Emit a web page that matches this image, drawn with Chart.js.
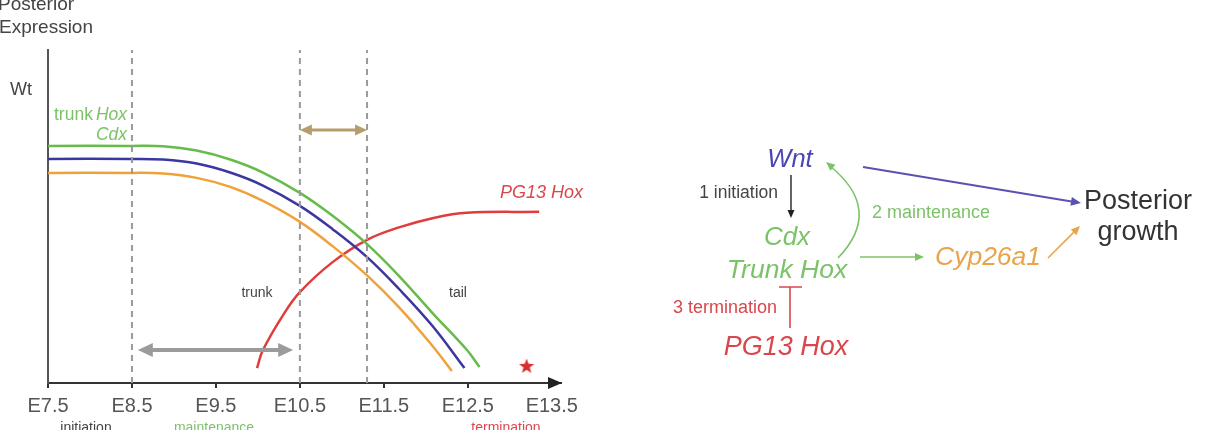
<!DOCTYPE html>
<html>
<head>
<meta charset="utf-8">
<script src="https://cdn.jsdelivr.net/npm/chart.js@4.4.1/dist/chart.umd.min.js"></script>
<style>
  html, body { margin: 0; padding: 0; background: #fff; }
  #wrap { width: 1209px; height: 430px; position: relative; overflow: hidden; }
</style>
</head>
<body>
<div id="wrap"><canvas id="c" width="1209" height="430"></canvas></div>
<script>
/* ─────────────── DATA ─────────────── */
const stageTicks  = [7.5, 8.5, 9.5, 10.5, 11.5, 12.5, 13.5];
const stageBounds = [8.5, 10.5, 11.3];

// trunk Hox / Cdx (green)
const cdxX = [7.5, 8.48, 8.87, 9.27, 9.67, 10.06, 10.5, 10.89, 11.3, 11.69, 12.08, 12.49, 12.64];
const cdxY = [71.2, 71.2, 71.1, 69.8, 67.1, 63.2, 57.1, 50.2, 41.7, 31.9, 21.0, 9.9, 4.8];
// Wnt (blue)
const wntX = [7.5, 8.48, 8.87, 9.27, 9.67, 10.06, 10.5, 10.89, 11.3, 11.69, 12.08, 12.46];
const wntY = [67.3, 67.3, 67.1, 65.9, 63.2, 59.3, 53.2, 46.2, 37.8, 28.0, 17.1, 4.5];
// Cyp26a1 (orange)
const cypX = [7.5, 8.48, 8.87, 9.27, 9.67, 10.06, 10.5, 10.89, 11.3, 11.69, 12.08, 12.31];
const cypY = [63.1, 63.1, 62.9, 61.6, 58.9, 54.7, 48.4, 41.1, 32.3, 22.5, 11.1, 3.6];
// PG13 Hox (red)
const pg13X = [9.99, 10.06, 10.3, 10.5, 10.89, 11.3, 11.69, 12.08, 12.49, 13.35];
const pg13Y = [4.5, 9.9, 20.4, 27.3, 36.3, 43.0, 46.8, 49.5, 51.1, 51.4];

const maintSpan = [8.57, 10.42], maintLevel = 9.9;
const tailSpan  = [10.5, 11.3],  tailLevel  = 76;
const starPt    = [13.2, 5.1];

/* ─────────────── STYLE ─────────────── */
const FONT = '"Liberation Sans", Arial, Helvetica, sans-serif';
const C = {
  text: '#444', green: '#66bb4a', greenTxt: '#7cc268', blue: '#3b36a0', blueTxt: '#4b45b5',
  orange: '#f0a23a', orangeTxt: '#e9a44a', red: '#e03c3c', redTxt: '#d9474d',
  tan: '#b59e6b', grey: '#9b9b9b', dash: '#9a9a9a'
};

const zip = (xs, ys) => xs.map((x, i) => ({ x, y: ys[i] }));

function curve(xs, ys, color){
  return {
    data: zip(xs, ys), showLine: true, borderColor: color, borderWidth: 2.5,
    pointRadius: 0, tension: 0.4, fill: false
  };
}

// filled star used as point style
const starImg = document.createElement('canvas');
starImg.width = 16; starImg.height = 16;
(function(){
  const g = starImg.getContext('2d');
  g.beginPath();
  for (let i = 0; i < 10; i++){
    const r = i % 2 ? 3.3 : 8, a = -Math.PI/2 + i*Math.PI/5;
    g.lineTo(8 + r*Math.cos(a), 8.5 + r*Math.sin(a));
  }
  g.closePath(); g.fillStyle = '#d63030'; g.fill();
})();

/* ─────────────── DRAW HELPERS ─────────────── */
function txt(ctx, s, x, y, size, color, align, italic){
  ctx.font = (italic ? 'italic ' : '') + size + 'px ' + FONT;
  ctx.fillStyle = color;
  ctx.textAlign = align || 'left';
  ctx.textBaseline = 'alphabetic';
  ctx.fillText(s, x, y);
}

function head(ctx, x, y, ang, len, half, color){
  ctx.save();
  ctx.translate(x, y); ctx.rotate(ang);
  ctx.beginPath();
  ctx.moveTo(0, 0); ctx.lineTo(-len, -half); ctx.lineTo(-len, half);
  ctx.closePath(); ctx.fillStyle = color; ctx.fill();
  ctx.restore();
}

function arrow(ctx, x1, y1, x2, y2, color, w, len, half, both){
  const ang = Math.atan2(y2 - y1, x2 - x1);
  const dx = Math.cos(ang) * len * 0.8, dy = Math.sin(ang) * len * 0.8;
  ctx.beginPath();
  ctx.moveTo(both ? x1 + dx : x1, both ? y1 + dy : y1);
  ctx.lineTo(x2 - dx, y2 - dy);
  ctx.strokeStyle = color; ctx.lineWidth = w; ctx.stroke();
  head(ctx, x2, y2, ang, len, half, color);
  if (both) head(ctx, x1, y1, ang + Math.PI, len, half, color);
}

/* ─────────────── ANNOTATIONS PLUGIN ─────────────── */
const annotations = {
  id: 'annotations',
  afterDraw(chart){
    const ctx = chart.ctx, xs = chart.scales.x, ys = chart.scales.y, ca = chart.chartArea;
    ctx.save();

    // axis arrowhead
    head(ctx, ca.right + 1, ca.bottom, 0, 14, 6, '#222');

    // double arrows
    arrow(ctx, xs.getPixelForValue(maintSpan[0]), ys.getPixelForValue(maintLevel),
               xs.getPixelForValue(maintSpan[1]), ys.getPixelForValue(maintLevel),
               C.grey, 4, 15, 7, true);
    arrow(ctx, xs.getPixelForValue(tailSpan[0]), ys.getPixelForValue(tailLevel),
               xs.getPixelForValue(tailSpan[1]), ys.getPixelForValue(tailLevel),
               C.tan, 3, 12, 5.5, true);

    // left panel text
    txt(ctx, 'Posterior', -2, 10, 19, C.text);
    txt(ctx, 'Expression', -1, 33, 19, C.text);
    txt(ctx, 'Wt', 10, 95, 18, C.text);
    ctx.font = 'italic 17.5px ' + FONT;
    const hw = ctx.measureText('Hox').width;
    txt(ctx, 'Hox', 127, 120, 17.5, C.greenTxt, 'right', true);
    txt(ctx, 'trunk', 127 - hw - 3, 120, 17.5, C.greenTxt, 'right');
    txt(ctx, 'Cdx', 127, 140, 17.5, C.greenTxt, 'right', true);
    txt(ctx, 'trunk', 257, 297, 14, C.text, 'center');
    txt(ctx, 'tail', 458, 297, 14, C.text, 'center');
    txt(ctx, 'PG13 Hox', 500, 198, 18, C.redTxt, 'left', true);
    txt(ctx, 'initiation', 86, 432, 14, C.text, 'center');
    txt(ctx, 'maintenance', 214, 432, 14, C.greenTxt, 'center');
    txt(ctx, 'termination', 506, 432, 14, C.redTxt, 'center');

    // right panel: regulatory diagram
    txt(ctx, 'Wnt', 790, 167, 25.5, C.blueTxt, 'center', true);
    txt(ctx, '1 initiation', 778, 198, 17.5, C.text, 'right');
    arrow(ctx, 791, 175, 791, 218, '#222', 1.4, 8, 3.5);
    txt(ctx, 'Cdx', 787, 245, 26, C.greenTxt, 'center', true);
    txt(ctx, 'Trunk Hox', 787, 278, 26.5, C.greenTxt, 'center', true);
    txt(ctx, '3 termination', 777, 313, 18, C.redTxt, 'right');
    ctx.strokeStyle = C.redTxt; ctx.lineWidth = 1.6;
    ctx.beginPath();
    ctx.moveTo(790, 287); ctx.lineTo(790, 328);
    ctx.moveTo(779, 287); ctx.lineTo(802, 287);
    ctx.stroke();
    txt(ctx, 'PG13 Hox', 786, 355, 27, C.redTxt, 'center', true);

    // curved maintenance arrow
    ctx.beginPath();
    ctx.moveTo(838, 258);
    ctx.quadraticCurveTo(884, 210, 830, 166);
    ctx.strokeStyle = C.greenTxt; ctx.lineWidth = 1.6; ctx.stroke();
    head(ctx, 826, 162, Math.atan2(162 - 210, 826 - 884), 9, 4, C.greenTxt);
    txt(ctx, '2 maintenance', 872, 218, 18, C.greenTxt, 'left');

    arrow(ctx, 860, 257, 924, 257, C.greenTxt, 1.6, 9, 4);
    txt(ctx, 'Cyp26a1', 935, 265, 26.5, C.orangeTxt, 'left', true);
    arrow(ctx, 1048, 258, 1080, 226, C.orangeTxt, 1.6, 9, 4);
    arrow(ctx, 863, 167, 1081, 203, '#5a52b2', 2, 10, 4.5);
    txt(ctx, 'Posterior', 1138, 209, 27, '#333', 'center');
    txt(ctx, 'growth', 1138, 240, 27, '#333', 'center');

    ctx.restore();
  }
};

/* ─────────────── CHART ─────────────── */
const datasets = [
  ...stageBounds.map(b => ({
    data: [{ x: b, y: 0 }, { x: b, y: 100 }], showLine: true,
    borderColor: C.dash, borderWidth: 2, borderDash: [6, 5], pointRadius: 0
  })),
  curve(cypX, cypY, C.orange),
  curve(wntX, wntY, C.blue),
  curve(cdxX, cdxY, C.green),
  curve(pg13X, pg13Y, C.red),
  { data: [{ x: starPt[0], y: starPt[1] }], pointStyle: starImg, pointRadius: 8, showLine: false }
];

new Chart(document.getElementById('c').getContext('2d'), {
  type: 'scatter',
  data: { datasets },
  options: {
    responsive: false, animation: false,
    layout: { padding: { left: 48, top: 50, right: 648, bottom: 0 } },
    plugins: { legend: { display: false }, tooltip: { enabled: false } },
    scales: {
      x: {
        type: 'linear', min: 7.5, max: 13.61,
        afterBuildTicks: s => { s.ticks = stageTicks.map(v => ({ value: v })); },
        afterFit: s => { s.height = 47; },
        ticks: {
          callback: v => 'E' + Number(v).toFixed(1),
          font: { family: FONT, size: 20 }, color: '#555', padding: 6, maxRotation: 0, autoSkip: false
        },
        grid: {
          display: true, drawOnChartArea: false, drawTicks: true, tickLength: 5, lineWidth: 2,
          color: c => (c.tick && c.tick.value === 13.5) ? 'rgba(0,0,0,0)' : '#333'
        },
        border: { display: true, color: '#333', width: 2 }
      },
      y: {
        type: 'linear', min: 0, max: 100,
        afterFit: s => { s.width = 0; },
        ticks: { display: false },
        grid: { display: false },
        border: { display: true, color: '#555', width: 2 }
      }
    }
  },
  plugins: [annotations]
});
</script>
</body>
</html>
